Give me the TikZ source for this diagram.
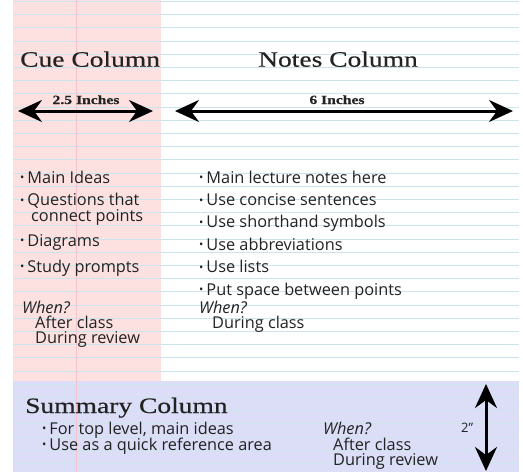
\documentclass[tikz,border=0pt]{standalone}
\usepackage{fontspec}
\setmainfont{Liberation Serif}
\setsansfont{Open Sans}
\newfontfamily\headfont[FakeStretch=1.25,FakeBold=0.4]{Liberation Serif}
\usetikzlibrary{arrows.meta,positioning}
\definecolor{cuepink}{HTML}{FDE1E1}
\definecolor{sumblue}{HTML}{DCDDF7}
\definecolor{ruleblue}{HTML}{CBE4EE}
\definecolor{margred}{HTML}{F3C2CA}
\definecolor{ink}{HTML}{222222}
\tikzset{>/.tip={Stealth[length=24pt,width=22pt,inset=8pt]}}
\tikzset{head/.style={font=\headfont\fontsize{22}{24}\selectfont,text=ink,inner sep=0pt,anchor=base west}}
\tikzset{size/.style={font=\headfont\bfseries\fontsize{12.5}{14}\selectfont,text=ink,inner sep=0pt,anchor=base}}
\tikzset{item/.style={font=\sffamily\fontsize{16.3}{19}\selectfont,text=ink,inner sep=0pt,anchor=base west}}
\tikzset{when/.style={item,font=\sffamily\itshape\fontsize{16.3}{19}\selectfont}}
\tikzset{span/.style={<->,line width=3pt}}
\newcommand\bul{\raisebox{.15ex}{\scalebox{.7}{\textbullet}}\hspace{3pt}}

\begin{document}
\begin{tikzpicture}[x=1pt,y=-1pt,node distance=22.4pt,on grid]
        \useasboundingbox[fill=white] (0,0) rectangle (523,472);
        \fill[cuepink] (13,0) rectangle (161,381);
        \fill[sumblue] (13,381) rectangle (519,472);
        \foreach \k in {0,...,35}
          \draw[ruleblue,line width=0.9pt] (13,1.5+13.2*\k) -- (519,1.5+13.2*\k);
        \draw[margred,line width=0.8pt] (76,0) -- (76,472);
        % headings and widths
        \node(cue)[head] at (20,66.7){Cue Column};
        \node(notes)[head] at (258,66.7){Notes Column};
        \node(cuew)[size] at (86,104){2.5 Inches};
        \node(notesw)[size] at (337,104){6 Inches};
        \coordinate(cl) at (18,111);
        \coordinate(cr) at (153,111);
        \coordinate(nl) at (175,111);
        \coordinate(nr) at (513,111);
        \draw[span] (cl) -- (cr);
        \draw[span] (nl) -- (nr);
        % cue column
        \node(c1)[item] at (20,183){\bul Main Ideas};
        \node(c2)[below=of c1.base west,item]{\bul Questions that};
        \node(c3)[item] at (31,221.5){connect points};
        \node(c4)[item] at (20,246){\bul Diagrams};
        \node(c5)[below=26pt of c4.base west,item]{\bul Study prompts};
        \node(cw)[when] at (22,313){When?};
        \node(cw1)[item] at (35,328.5){After class};
        \node(cw2)[below=15pt of cw1.base west,item]{During review};
        % notes column
        \node(n1)[item] at (199,183){\bul Main lecture notes here};
        \node(n2)[below=of n1.base west,item]{\bul Use concise sentences};
        \node(n3)[below=of n2.base west,item]{\bul Use shorthand symbols};
        \node(n4)[below=of n3.base west,item]{\bul Use abbreviations};
        \node(n5)[below=of n4.base west,item]{\bul Use lists};
        \node(n6)[below=of n5.base west,item]{\bul Put space between points};
        \node(nw)[when] at (199,313){When?};
        \node(nw1)[item] at (212,328.5){During class};
        % summary
        \node(sum)[head] at (25,413){Summary Column};
        \node(s1)[item] at (42,434){\bul For top level, main ideas};
        \node(s2)[below=16pt of s1.base west,item]{\bul Use as a quick reference area};
        \node(sw)[when] at (323,434){When?};
        \node(sw1)[item] at (333,450){After class};
        \node(sw2)[below=15pt of sw1.base west,item]{During review};
        \node(two)[item,font=\sffamily\fontsize{13}{15}\selectfont] at (461,432){2”};
        \coordinate(vt) at (486,384);
        \coordinate(vb) at (486,471);
        \draw[span] (vt) -- (vb);
      \end{tikzpicture}
\end{document}
